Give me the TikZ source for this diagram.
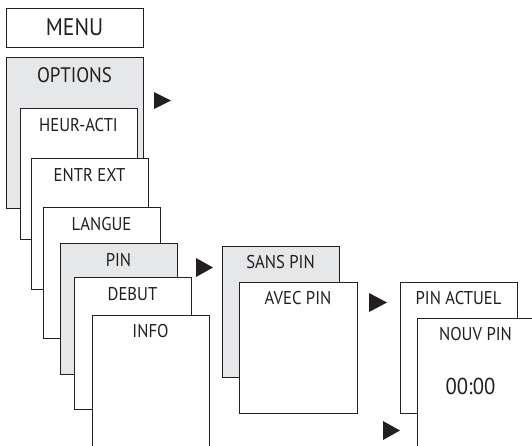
\documentclass[tikz,border=0pt]{standalone}
\usepackage{fontspec}
\newfontfamily\dinfont[FakeStretch=0.9]{PT Sans}
\definecolor{linecol}{HTML}{231F20}
\definecolor{selgray}{HTML}{E6E7E8}
\tikzset{
  box/.style={draw=linecol, fill=white, line width=1pt},
  selbox/.style={box, fill=selgray},
  lbl/.style={font=\dinfont\fontsize{18.5}{18.5}\selectfont, text=linecol, anchor=base, inner sep=0pt},
  biglbl/.style={lbl, font=\dinfont\fontsize{21}{21}\selectfont},
}
\begin{document}
\begin{tikzpicture}[x=1pt,y=-1pt]
\clip (0,0) rectangle (532,445);

% Menu
\draw[box] (6,8) rectangle (143,47);
\node[biglbl, anchor=center, font=\dinfont\fontsize{24}{24}\selectfont] (menu) at (74.5,27.5) {MENU};

% Options
\draw[selbox] (6,57) rectangle (143,208);
\node[biglbl] (options) at (74.5,82) {OPTIONS};
\fill[linecol] (154,92) -- (171,100.5) -- (154,109) -- cycle;

\draw[box] (20,108) rectangle (137,239);
\node[lbl] (heuracti) at (78.5,131) {HEUR-ACTI};

\draw[box] (31,158) rectangle (148,289);
\node[lbl] (entrext) at (89.5,181) {ENTR EXT};

\draw[box] (43,207) rectangle (160,338);
\node[lbl] (langue) at (101.5,230) {LANGUE};

\draw[selbox] (60,243) rectangle (177,374);
\node[lbl] (pin) at (118.5,266) {PIN};

\draw[box] (74,277) rectangle (191,409);
\node[lbl] (debut) at (132.5,300) {DEBUT};

\draw[box] (92,315) rectangle (209,452);
\node[lbl] (info) at (150.5,337) {INFO};

% PIN submenu
\fill[linecol] (196,258) -- (213,267.5) -- (196,277) -- cycle;

\draw[selbox] (222,246) rectangle (339,377);
\node[lbl] (sanspin) at (280.5,268) {SANS PIN};

\draw[box] (239,282) rectangle (357,413);
\node[lbl] (avecpin) at (298,304) {AVEC PIN};

% PIN entry
\fill[linecol] (369,293) -- (387,302.5) -- (369,312) -- cycle;

\draw[box] (400,282) rectangle (517,413);
\node[lbl] (pinactuel) at (458.5,304) {PIN ACTUEL};

\draw[box] (417,318) rectangle (534,452);
\node[lbl] (nouvpin) at (475.5,340) {NOUV PIN};
\node[biglbl, font=\dinfont\fontsize{23}{23}\selectfont] (pinval) at (470.5,394) {00:00};

\fill[linecol] (383,421) -- (400,430.5) -- (383,440) -- cycle;
\end{tikzpicture}
\end{document}
